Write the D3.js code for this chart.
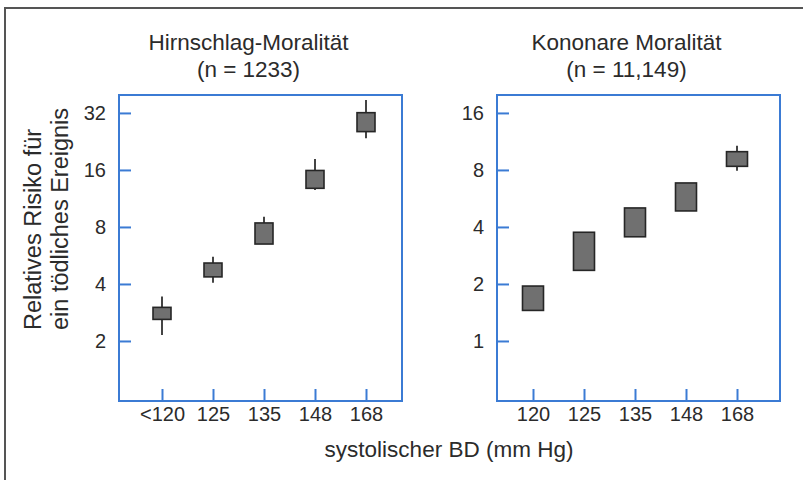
<!DOCTYPE html>
<html>
<head>
<meta charset="utf-8">
<script src="https://cdn.jsdelivr.net/npm/d3@7"></script>
<style>
  body { margin: 0; background: #fff; }
  text { font-family: 'Liberation Sans', Arial, sans-serif; fill: #2b2b2b; }
</style>
</head>
<body>
<div id="chart"></div>
<script>
// categories (systolic BP groups)
const strokeCats = ['<120', '125', '135', '148', '168'];
const coronaryCats = ['120', '125', '135', '148', '168'];

// relative risk, box extent
const strokeBoxLo = [2.60, 4.36, 6.5, 12.8, 25.5];
const strokeBoxHi = [3.01, 5.16, 8.4, 15.9, 32.1];
// relative risk, whisker extent
const strokeCiLo = [2.15, 4.06, 6.5, 12.55, 23.5];
const strokeCiHi = [3.43, 5.57, 9.07, 18.3, 37.5];

const coronaryBoxLo = [1.45, 2.36, 3.55, 4.86, 8.36];
const coronaryBoxHi = [1.95, 3.75, 5.04, 6.83, 9.99];
const coronaryCiLo = [1.45, 2.36, 3.55, 4.86, 7.93];
const coronaryCiHi = [1.95, 3.75, 5.04, 6.83, 10.75];

const strokeTicks = [2, 4, 8, 16, 32];
const coronaryTicks = [1, 2, 4, 8, 16];

const width = 803, height = 480;
const blue = '#3b7bd4';

const svg = d3.select('#chart').append('svg')
  .attr('width', width)
  .attr('height', height);

// outer frame (only top + left visible)
svg.append('rect')
  .attr('x', 5).attr('y', 8)
  .attr('width', 820).attr('height', 500)
  .attr('fill', 'none')
  .attr('stroke', '#555')
  .attr('stroke-width', 2);

const panels = [
  {
    title: 'Hirnschlag-Moralität', sub: '(n = 1233)',
    cats: strokeCats, boxLo: strokeBoxLo, boxHi: strokeBoxHi,
    ciLo: strokeCiLo, ciHi: strokeCiHi, ticks: strokeTicks,
    domain: [0.964, 39.8], x0: 119, x1: 402, inset: [43, 36], boxW: 18
  },
  {
    title: 'Kononare Moralität', sub: '(n = 11,149)',
    cats: coronaryCats, boxLo: coronaryBoxLo, boxHi: coronaryBoxHi,
    ciLo: coronaryCiLo, ciHi: coronaryCiHi, ticks: coronaryTicks,
    domain: [0.482, 19.9], x0: 497, x1: 780, inset: [36, 43], boxW: 21
  }
];

const plotTop = 95, plotBottom = 401;

panels.forEach((p) => {
  const x = d3.scalePoint()
    .domain(p.cats)
    .range([p.x0 + p.inset[0], p.x1 - p.inset[1]]);
  const y = d3.scaleLog().base(2)
    .domain(p.domain)
    .range([plotBottom, plotTop]);

  const g = svg.append('g');

  // y axis (ticks pointing inward)
  const ya = g.append('g')
    .attr('transform', `translate(${p.x0},0)`)
    .call(d3.axisLeft(y).tickValues(p.ticks).tickFormat(d3.format('d'))
      .tickSize(-12).tickPadding(13));
  ya.select('.domain').remove();
  ya.selectAll('line').attr('stroke', blue).attr('stroke-width', 2);
  ya.selectAll('text').attr('font-size', 20).attr('fill', '#2b2b2b');

  // x axis (ticks pointing up)
  const xa = g.append('g')
    .attr('transform', `translate(0,${plotBottom})`)
    .call(d3.axisBottom(x).tickSize(-12).tickPadding(6));
  xa.select('.domain').remove();
  xa.selectAll('line').attr('stroke', blue).attr('stroke-width', 2);
  xa.selectAll('text').attr('font-size', 20).attr('fill', '#2b2b2b');

  // frame
  g.append('rect')
    .attr('x', p.x0).attr('y', plotTop)
    .attr('width', p.x1 - p.x0).attr('height', plotBottom - plotTop)
    .attr('fill', 'none')
    .attr('stroke', blue)
    .attr('stroke-width', 2);

  const idx = d3.range(p.cats.length);

  // whiskers
  g.append('g')
    .selectAll('line')
    .data(idx)
    .join('line')
    .attr('x1', (i) => x(p.cats[i]))
    .attr('x2', (i) => x(p.cats[i]))
    .attr('y1', (i) => y(p.ciLo[i]))
    .attr('y2', (i) => y(p.ciHi[i]))
    .attr('stroke', '#444')
    .attr('stroke-width', 2);

  // boxes
  g.append('g')
    .selectAll('rect')
    .data(idx)
    .join('rect')
    .attr('x', (i) => x(p.cats[i]) - p.boxW / 2)
    .attr('width', p.boxW)
    .attr('y', (i) => y(p.boxHi[i]))
    .attr('height', (i) => y(p.boxLo[i]) - y(p.boxHi[i]))
    .attr('fill', '#707070')
    .attr('stroke', '#262626')
    .attr('stroke-width', 1.6);

  // titles
  const cx = (p.x0 + p.x1) / 2 - 12;
  g.append('text')
    .attr('x', cx).attr('y', 50)
    .attr('text-anchor', 'middle')
    .attr('font-size', 22.5)
    .text(p.title);
  g.append('text')
    .attr('x', cx).attr('y', 77)
    .attr('text-anchor', 'middle')
    .attr('font-size', 22.5)
    .text(p.sub);
});

// y axis title (two lines, rotated)
const yt = svg.append('text')
  .attr('transform', 'translate(41,330) rotate(-90)')
  .attr('font-size', 23.5)
  .attr('text-anchor', 'start');
yt.append('tspan').attr('x', 0).attr('y', 0).text('Relatives Risiko für');
yt.append('tspan').attr('x', 0).attr('y', 27).text('ein tödliches Ereignis');

// x axis title
svg.append('text')
  .attr('x', 449).attr('y', 457)
  .attr('text-anchor', 'middle')
  .attr('font-size', 22.5)
  .text('systolischer BD (mm Hg)');
</script>
</body>
</html>
